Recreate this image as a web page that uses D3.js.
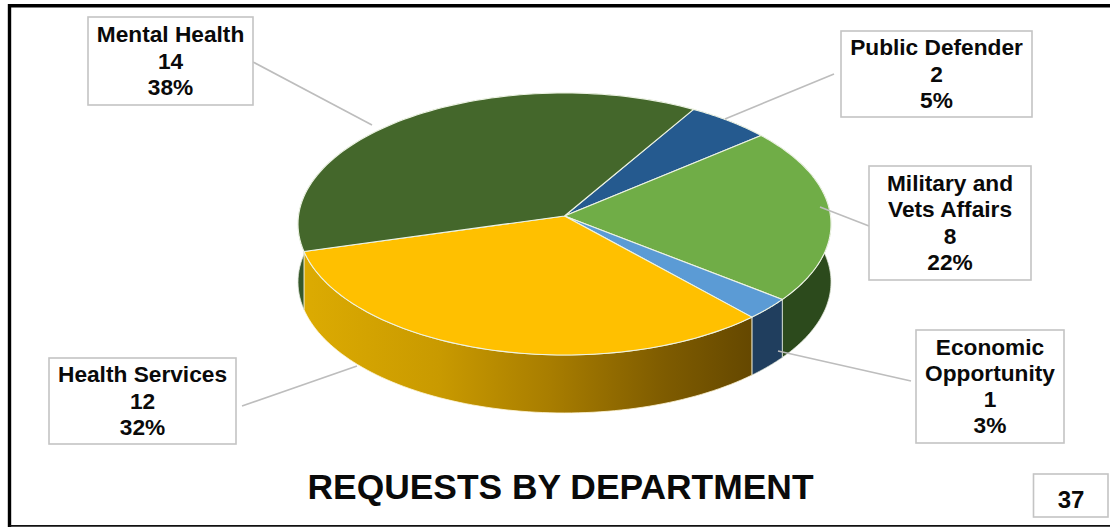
<!DOCTYPE html>
<html><head><meta charset="utf-8">
<script src="https://cdn.jsdelivr.net/npm/d3@7/dist/d3.min.js"></script>
<style>html,body{margin:0;padding:0;background:#fff}svg{display:block}text{font-family:"Liberation Sans",Arial,sans-serif;font-weight:bold;fill:#0a0a0a}</style>
</head><body><svg id="c" width="1110" height="527"></svg>
<script>
const departments = ["Public Defender","Military and Vets Affairs","Economic Opportunity","Health Services","Mental Health"];
const counts = [2,8,1,12,14];
const percents = ["5%","22%","3%","32%","38%"];
const labelLines = [["Public Defender"],["Military and","Vets Affairs"],["Economic","Opportunity"],["Health Services"],["Mental Health"]];
const topColors = ["#255a8f","#70ad47","#5b9bd5","#ffc000","#44672b"];
const wallColors = ["#1c3f63","#2c4a1c","#203e5e","url(#gold)","#35572a"];
const boxes = [[841,31,191,86],[869,166,162,114],[916,330,148,113],[49,358,187,86],[88,17,165,88]];
const leaders = [[[834,74],[725,119]],[[869,226],[820,207]],[[911,381],[778,351]],[[242,406],[357,366]],[[253,62],[372,125]]];
const title = "REQUESTS BY DEPARTMENT";
const pageNumber = "37";

const svg = d3.select("#c");
const cx = 564.5, cy = 216, rx = 266, ry = 130.5, k = 0.061, depth = 58;
const startDeg = 30.7;
const project = (a, r = 1) => {
  const u = r * Math.sin(a), v = -r * Math.cos(a), d = 1 - k * v;
  return [cx + rx * u / d, cy + ry * v / d];
};
const pie = d3.pie().sort(null).startAngle(startDeg * Math.PI / 180).endAngle((startDeg + 360) * Math.PI / 180);
const arcs = pie(counts);
const line = d3.line();
const sample = (a0, a1) => d3.range(0, 81).map(i => project(a0 + (a1 - a0) * i / 80));

const defs = svg.append("defs");
const gold = defs.append("linearGradient").attr("id", "gold").attr("gradientUnits", "userSpaceOnUse")
  .attr("x1", 304).attr("x2", 752).attr("y1", 0).attr("y2", 0);
[[0, "#dcab02"], [0.3, "#c99a00"], [0.55, "#a87d00"], [0.8, "#7f5c00"], [1, "#654800"]].forEach(s =>
  gold.append("stop").attr("offset", s[0]).attr("stop-color", s[1]));

svg.append("rect").attr("width", 1110).attr("height", 527).attr("fill", "#fff");

// side walls
svg.append("g").selectAll("path").data(arcs).join("path")
  .attr("d", d => {
    const p = sample(d.startAngle, d.endAngle);
    const low = p.map(q => [q[0], q[1] + depth]).reverse();
    return line(p.concat(low)) + "Z";
  })
  .attr("fill", (d, i) => wallColors[i])
  .attr("stroke", (d, i) => i === 3 ? "#fff6d8" : "#dfe6d8").attr("stroke-width", 0.8).attr("stroke-linejoin", "round");

// tops
svg.append("g").selectAll("path").data(arcs).join("path")
  .attr("d", d => line([[cx, cy]].concat(sample(d.startAngle, d.endAngle))) + "Z")
  .attr("fill", (d, i) => topColors[i])
  .attr("stroke", "#edf3e4").attr("stroke-width", 1.1).attr("stroke-linejoin", "round");

// leaders
svg.append("g").selectAll("path").data(leaders).join("path")
  .attr("d", d => line(d)).attr("fill", "none").attr("stroke", "#bdbdbd").attr("stroke-width", 1.6);

// labels
const lab = svg.append("g").selectAll("g").data(departments).join("g");
lab.append("rect")
  .attr("x", (d, i) => boxes[i][0]).attr("y", (d, i) => boxes[i][1])
  .attr("width", (d, i) => boxes[i][2]).attr("height", (d, i) => boxes[i][3])
  .attr("fill", "#fff").attr("stroke", "#c4c4c4").attr("stroke-width", 1.6);
lab.each(function (d, i) {
  const lines = labelLines[i].concat([String(counts[i]), percents[i]]);
  const b = boxes[i], mid = b[0] + b[2] / 2, lh = 26.3;
  const y0 = b[1] + b[3] / 2 - (lines.length - 1) * lh / 2 + 7.5;
  d3.select(this).selectAll("text").data(lines).join("text")
    .attr("x", mid).attr("y", (t, j) => y0 + j * lh)
    .attr("text-anchor", "middle").attr("font-size", 22.7).text(t => t);
});

// frame
svg.append("path").attr("d", "M9.5,527V5.7H1110").attr("fill", "none").attr("stroke", "#000").attr("stroke-width", 3.4);
svg.append("path").attr("d", "M9.5,525.8H1110").attr("fill", "none").attr("stroke", "#111").attr("stroke-width", 1.8);

svg.append("text").attr("x", 560.5).attr("y", 499).attr("text-anchor", "middle").attr("font-size", 35.4).text(title);

svg.append("rect").attr("x", 1033.5).attr("y", 474).attr("width", 74.5).attr("height", 43)
  .attr("fill", "#fff").attr("stroke", "#c4c4c4").attr("stroke-width", 1.6);
svg.append("text").attr("x", 1071).attr("y", 508).attr("text-anchor", "middle").attr("font-size", 24).text(pageNumber);
</script></body></html>
